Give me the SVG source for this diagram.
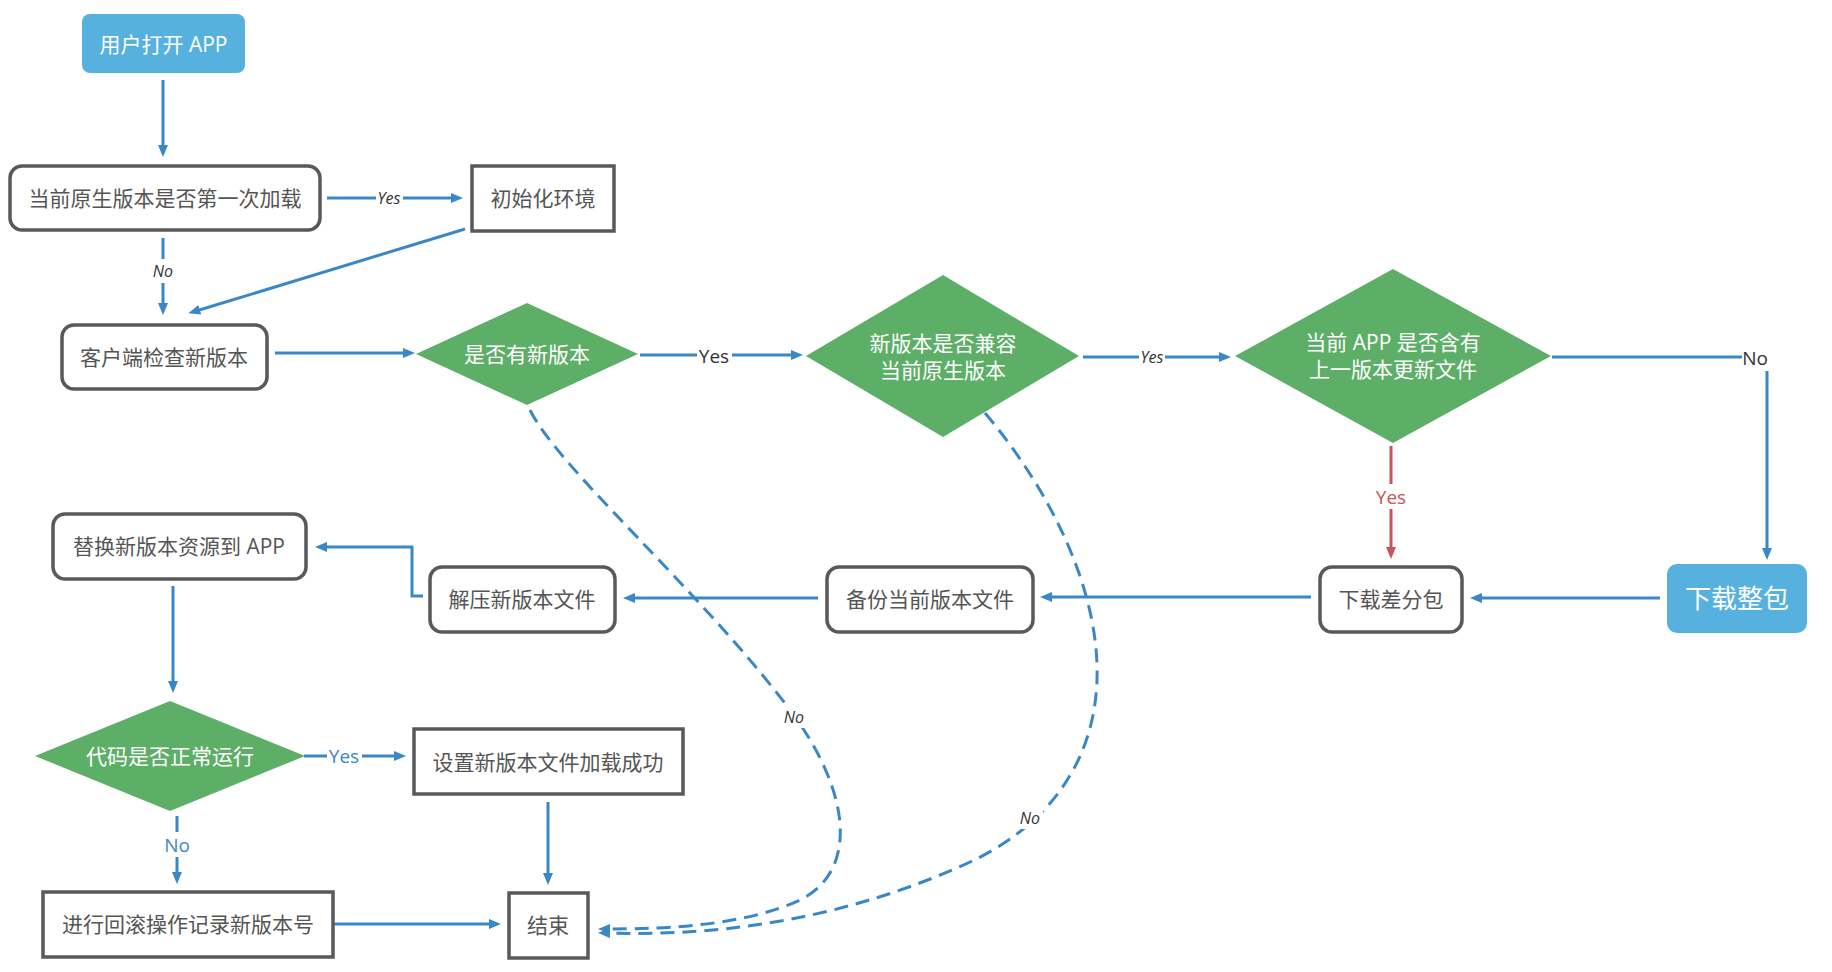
<svg xmlns="http://www.w3.org/2000/svg" width="1832" height="972" viewBox="0 0 1832 972">
<defs>
<style>
.box{fill:#fff;stroke:#595959;stroke-width:3.5}
.blue{fill:#56B1DE}
.dia{fill:#5DAE67}
.t{font-family:"Open Sans","Noto Sans CJK SC",sans-serif;font-size:21px;fill:#555;text-anchor:middle;dominant-baseline:central}
.tw{fill:#fff}
.ln{fill:none;stroke:#3A87C7;stroke-width:3}
.dash{stroke-dasharray:14 8}
.red{stroke:#C8545A}
.lb{font-family:"Open Sans","Noto Sans",sans-serif;font-size:19px;fill:#333;text-anchor:middle;dominant-baseline:central}
.it{font-style:italic;font-size:16px}
.lbb{fill:#3A87C7}
.lbr{fill:#C8545A}
.bg{fill:#fff}
</style>
<marker id="ah" viewBox="0 0 12 10" refX="4" refY="5" markerWidth="12" markerHeight="10" markerUnits="userSpaceOnUse" orient="auto">
<path d="M0,0 L12,5 L0,10 z" fill="#3A87C7"/>
</marker>
<marker id="ahr" viewBox="0 0 12 10" refX="4" refY="5" markerWidth="12" markerHeight="10" markerUnits="userSpaceOnUse" orient="auto">
<path d="M0,0 L12,5 L0,10 z" fill="#C8545A"/>
</marker>
</defs>
<rect width="1832" height="972" fill="#fff"/>

<g id="connectors">
<path class="ln" d="M163,80 V149" marker-end="url(#ah)"/>
<path class="ln" d="M327,198 H455" marker-end="url(#ah)"/>
<path class="ln" d="M163,238 V307" marker-end="url(#ah)"/>
<path class="ln" d="M465,229 L196,311" marker-end="url(#ah)"/>
<path class="ln" d="M275,353 H407" marker-end="url(#ah)"/>
<path class="ln" d="M640,355 H795" marker-end="url(#ah)"/>
<path class="ln" d="M1083,357 H1223" marker-end="url(#ah)"/>
<path class="ln" d="M1552,357 H1767 V552" marker-end="url(#ah)"/>
<path class="ln red" d="M1391,446 V551" marker-end="url(#ahr)"/>
<path class="ln" d="M1660,598 H1478" marker-end="url(#ah)"/>
<path class="ln" d="M1311,597 H1048" marker-end="url(#ah)"/>
<path class="ln" d="M818,598 H631" marker-end="url(#ah)"/>
<path class="ln" d="M423,596 H412 V547 H323" marker-end="url(#ah)"/>
<path class="ln" d="M173,586 V685" marker-end="url(#ah)"/>
<path class="ln" d="M304,756 H398" marker-end="url(#ah)"/>
<path class="ln" d="M177,816 V876" marker-end="url(#ah)"/>
<path class="ln" d="M548,802 V877" marker-end="url(#ah)"/>
<path class="ln" d="M326,924 H493" marker-end="url(#ah)"/>
<path class="ln dash" d="M530,410 C560,470 700,590 790,710 C850,790 860,870 800,900 C740,928 650,929 606,929" marker-end="url(#ah)"/>
<path class="ln dash" d="M985,413 C1050,490 1100,590 1097,680 C1094,770 1040,830 968,863 C880,903 760,938 606,933" marker-end="url(#ah)"/>

<rect class="bg" x="376" y="188" width="27" height="20"/>
<text class="lb it" x="389" y="198">Yes</text>
<rect class="bg" x="150" y="259" width="26" height="24"/>
<text class="lb it" x="163" y="271">No</text>
<rect class="bg" x="697" y="343" width="35" height="24"/>
<text class="lb" x="714" y="356">Yes</text>
<rect class="bg" x="1139" y="347" width="26" height="20"/>
<text class="lb it" x="1152" y="357">Yes</text>
<rect class="bg" x="1742" y="344" width="28" height="27"/>
<text class="lb" x="1755" y="358">No</text>
<rect class="bg" x="1374" y="484" width="34" height="25"/>
<text class="lb lbr" x="1391" y="497">Yes</text>
<rect class="bg" x="327" y="745" width="35" height="22"/>
<text class="lb lbb" x="344" y="756">Yes</text>
<rect class="bg" x="163" y="832" width="28" height="25"/>
<text class="lb lbb" x="177" y="845">No</text>
<rect class="bg" x="781" y="706" width="26" height="22"/>
<text class="lb it" x="794" y="717">No</text>
<rect class="bg" x="1017" y="807" width="26" height="22"/>
<text class="lb it" x="1030" y="818">No</text>
</g>

<g id="start">
<rect class="blue" x="82" y="14" width="163" height="59" rx="8"/>
<text class="t tw" x="163.5" y="44">用户打开 APP</text>
</g>
<g id="first-load">
<rect class="box" x="10" y="166" width="310" height="64" rx="12"/>
<text class="t" x="165" y="198">当前原生版本是否第一次加载</text>
</g>
<g id="init-env">
<rect class="box" x="472" y="166" width="142" height="65"/>
<text class="t" x="543" y="198">初始化环境</text>
</g>
<g id="check-version">
<rect class="box" x="62" y="325" width="205" height="64" rx="12"/>
<text class="t" x="164" y="357">客户端检查新版本</text>
</g>
<g id="has-new">
<polygon class="dia" points="416,354 527,303 638,354 527,405"/>
<text class="t tw" x="527" y="354">是否有新版本</text>
</g>
<g id="compatible">
<polygon class="dia" points="806,356 943,275 1079,356 943,437"/>
<text class="t tw" x="943" y="343">新版本是否兼容</text>
<text class="t tw" x="943" y="370">当前原生版本</text>
</g>
<g id="has-prev">
<polygon class="dia" points="1235,356 1393,269 1551,356 1393,443"/>
<text class="t tw" x="1393" y="342">当前 APP 是否含有</text>
<text class="t tw" x="1393" y="369">上一版本更新文件</text>
</g>
<g id="download-full">
<rect class="blue" x="1667" y="564" width="140" height="69" rx="10"/>
<text class="t tw" x="1737" y="598" style="font-size:26px">下载整包</text>
</g>
<g id="download-diff">
<rect class="box" x="1320" y="567" width="142" height="65" rx="12"/>
<text class="t" x="1391" y="599">下载差分包</text>
</g>
<g id="backup">
<rect class="box" x="827" y="567" width="206" height="65" rx="12"/>
<text class="t" x="930" y="599">备份当前版本文件</text>
</g>
<g id="unzip">
<rect class="box" x="430" y="567" width="185" height="65" rx="12"/>
<text class="t" x="522" y="599">解压新版本文件</text>
</g>
<g id="replace">
<rect class="box" x="53" y="514" width="253" height="65" rx="12"/>
<text class="t" x="179" y="546">替换新版本资源到 APP</text>
</g>
<g id="run-ok">
<polygon class="dia" points="35,756 170,701 305,756 170,811"/>
<text class="t tw" x="170" y="756">代码是否正常运行</text>
</g>
<g id="set-success">
<rect class="box" x="414" y="729" width="269" height="65"/>
<text class="t" x="548" y="762">设置新版本文件加载成功</text>
</g>
<g id="rollback">
<rect class="box" x="43" y="892" width="290" height="65"/>
<text class="t" x="188" y="924">进行回滚操作记录新版本号</text>
</g>
<g id="end">
<rect class="box" x="509" y="893" width="79" height="65"/>
<text class="t" x="548" y="925">结束</text>
</g>
</svg>
